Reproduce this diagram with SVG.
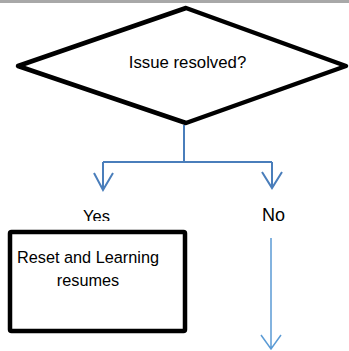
<svg xmlns="http://www.w3.org/2000/svg" width="349" height="351" viewBox="0 0 349 351">
<style>
text{font-family:"Liberation Sans",Arial,sans-serif;fill:#000}
.shape{fill:#fff;stroke:#000;stroke-width:4.5;stroke-linejoin:round}
.conn{fill:none;stroke:#4a7ebb;stroke-width:2}
.conn2{fill:none;stroke:#5b9bd5;stroke-width:1.5}
</style>
<defs>
<clipPath id="yesClip"><rect x="70" y="195" width="60" height="26"/></clipPath>
</defs>
<rect x="0" y="0" width="349" height="351" fill="#fff"/>
<rect x="0" y="0" width="349" height="3" fill="#a8a8a8"/>
<g id="connectors">
<path class="conn" d="M184,125 V162 M103,162 H272 M103,162 V190 M272,162 V188"/>
<path class="conn" d="M94,173 L103,190 L113,173 M262,172 L272,188 L282,172"/>
<path class="conn2" d="M271,238 V349 M261,335 L271,349 L281,335"/>
</g>
<g id="decision">
<polygon class="shape" points="186,8 346,66 186,123 18,66"/>
<text x="187.5" y="68" font-size="16.8" text-anchor="middle">Issue resolved?</text>
</g>
<g id="label-yes">
<text x="83" y="221.5" font-size="16.5" clip-path="url(#yesClip)">Yes</text>
</g>
<g id="label-no">
<text x="262" y="221" font-size="18">No</text>
</g>
<g id="reset">
<rect class="shape" x="10" y="232" width="175" height="99" rx="1.5"/>
<text x="88" y="262.5" font-size="16.3" text-anchor="middle">Reset and Learning</text>
<text x="88" y="286" font-size="16.3" text-anchor="middle">resumes</text>
</g>
</svg>
